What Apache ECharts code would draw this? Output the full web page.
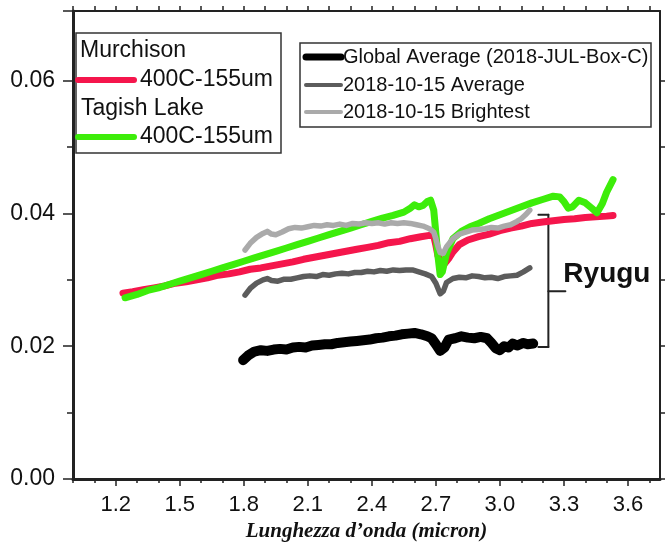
<!DOCTYPE html>
<html>
<head>
<meta charset="utf-8">
<script src="https://cdn.jsdelivr.net/npm/echarts@6/dist/echarts.min.js"></script>
<style>
html, body { margin: 0; padding: 0; background: #fff; }
#chart { width: 665px; height: 543px; }
</style>
</head>
<body>
<div id="chart"></div>
<script>
// Wavelength (micron) and reflectance for each spectrum
const murchisonX = [1.234,1.28,1.33,1.38,1.43,1.48,1.53,1.58,1.63,1.68,1.73,1.78,1.83,1.88,1.93,1.98,2.03,2.08,2.13,2.18,2.23,2.28,2.33,2.38,2.43,2.48,2.53,2.58,2.63,2.67,2.69,2.70,2.71,2.725,2.74,2.76,2.78,2.81,2.85,2.90,2.95,3.00,3.05,3.10,3.15,3.20,3.25,3.30,3.35,3.40,3.45,3.50,3.53];
const murchisonY = [0.0280,0.0282,0.0285,0.0288,0.0291,0.0295,0.0297,0.0300,0.0303,0.0307,0.0309,0.0312,0.0316,0.0318,0.0321,0.0324,0.0327,0.0331,0.0334,0.0337,0.0340,0.0343,0.0346,0.0349,0.0352,0.0356,0.0358,0.0362,0.0365,0.0367,0.0366,0.0352,0.0336,0.0325,0.0324,0.0332,0.0342,0.0353,0.0360,0.0365,0.0369,0.0374,0.0378,0.0381,0.0385,0.0387,0.0389,0.0391,0.0392,0.0394,0.0395,0.0396,0.0397];

const tagishX = [1.244,1.30,1.35,1.40,1.45,1.50,1.55,1.60,1.65,1.70,1.75,1.80,1.85,1.90,1.95,2.00,2.05,2.10,2.15,2.20,2.25,2.30,2.35,2.40,2.45,2.50,2.55,2.58,2.60,2.62,2.64,2.66,2.675,2.69,2.70,2.71,2.72,2.73,2.75,2.78,2.82,2.86,2.90,2.95,3.00,3.05,3.10,3.15,3.20,3.25,3.28,3.30,3.32,3.34,3.37,3.40,3.43,3.455,3.48,3.50,3.53];
const tagishY = [0.0273,0.0278,0.0284,0.0288,0.0293,0.0298,0.0303,0.0308,0.0313,0.0318,0.0323,0.0328,0.0333,0.0338,0.0343,0.0348,0.0353,0.0358,0.0363,0.0368,0.0373,0.0378,0.0383,0.0388,0.0393,0.0397,0.0402,0.0408,0.0413,0.0410,0.0412,0.0418,0.0420,0.0405,0.0370,0.0335,0.0308,0.0312,0.0340,0.0362,0.0373,0.0380,0.0385,0.0392,0.0398,0.0404,0.0410,0.0416,0.0421,0.0426,0.0425,0.0418,0.0408,0.0410,0.0420,0.0416,0.0408,0.0401,0.0415,0.0432,0.0451];

const globalX = [1.797,1.82,1.85,1.88,1.91,1.94,1.97,2.00,2.03,2.06,2.09,2.12,2.15,2.18,2.21,2.24,2.27,2.30,2.33,2.36,2.39,2.42,2.45,2.48,2.51,2.54,2.57,2.60,2.63,2.66,2.68,2.70,2.72,2.74,2.76,2.79,2.82,2.85,2.88,2.91,2.94,2.96,2.98,3.00,3.02,3.04,3.06,3.08,3.11,3.13,3.156];
const globalY = [0.0179,0.0186,0.0192,0.0194,0.0193,0.0195,0.0196,0.0195,0.0198,0.0199,0.0198,0.0201,0.0202,0.0203,0.0203,0.0205,0.0206,0.0207,0.0208,0.0209,0.0210,0.0212,0.0213,0.0215,0.0216,0.0218,0.0219,0.0220,0.0218,0.0215,0.0212,0.0203,0.0193,0.0198,0.0210,0.0212,0.0215,0.0213,0.0212,0.0214,0.0212,0.0205,0.0197,0.0194,0.0200,0.0198,0.0204,0.0201,0.0205,0.0203,0.0204];

const avgX = [1.806,1.83,1.86,1.89,1.91,1.93,1.96,1.99,2.02,2.05,2.08,2.11,2.14,2.17,2.20,2.23,2.26,2.29,2.32,2.35,2.38,2.41,2.44,2.47,2.50,2.53,2.56,2.59,2.62,2.65,2.68,2.70,2.72,2.735,2.75,2.78,2.81,2.84,2.87,2.90,2.93,2.96,2.99,3.02,3.05,3.08,3.11,3.14];
const avgY = [0.0277,0.0287,0.0295,0.0300,0.0302,0.0299,0.0298,0.0301,0.0301,0.0303,0.0305,0.0306,0.0305,0.0308,0.0307,0.0309,0.0310,0.0309,0.0311,0.0311,0.0313,0.0312,0.0314,0.0313,0.0315,0.0314,0.0315,0.0315,0.0312,0.0309,0.0305,0.0295,0.0279,0.0283,0.0296,0.0302,0.0304,0.0303,0.0306,0.0305,0.0303,0.0304,0.0302,0.0305,0.0306,0.0307,0.0312,0.0318];

const brightX = [1.806,1.83,1.86,1.89,1.91,1.93,1.95,1.98,2.01,2.04,2.07,2.10,2.13,2.16,2.19,2.22,2.25,2.28,2.31,2.34,2.37,2.40,2.43,2.46,2.49,2.52,2.55,2.58,2.61,2.64,2.67,2.69,2.70,2.71,2.72,2.735,2.75,2.78,2.81,2.84,2.87,2.90,2.93,2.96,2.99,3.02,3.05,3.08,3.10,3.12,3.14];
const brightY = [0.0345,0.0355,0.0364,0.0370,0.0373,0.0369,0.0368,0.0372,0.0377,0.0379,0.0378,0.0380,0.0382,0.0381,0.0383,0.0382,0.0384,0.0382,0.0385,0.0384,0.0386,0.0385,0.0386,0.0384,0.0386,0.0385,0.0386,0.0385,0.0383,0.0381,0.0377,0.0372,0.0362,0.0350,0.0341,0.0340,0.0350,0.0362,0.0369,0.0372,0.0375,0.0376,0.0377,0.0379,0.0378,0.0381,0.0383,0.0388,0.0392,0.0398,0.0405];

// Axis ticks and labels
const xLabelValues = [1.2, 1.5, 1.8, 2.1, 2.4, 2.7, 3.0, 3.3, 3.6];
const xMinorValues = [1.0, 1.1, 1.3, 1.4, 1.6, 1.7, 1.9, 2.0, 2.2, 2.3, 2.5, 2.6, 2.8, 2.9, 3.1, 3.2, 3.4, 3.5, 3.7];
const xTopValues = [1.0,1.1,1.2,1.3,1.4,1.5,1.6,1.7,1.8,1.9,2.0,2.1,2.2,2.3,2.4,2.5,2.6,2.7,2.8,2.9,3.0,3.1,3.2,3.3,3.4,3.5,3.6,3.7];
const yLabelValues = [0.00, 0.02, 0.04, 0.06];
const yMinorValues = [0.01, 0.03, 0.05];
const yRightValues = [0.00, 0.01, 0.02, 0.03, 0.04, 0.05, 0.06];

const X_MIN = 1.0, X_MAX = 3.75, Y_MIN = 0, Y_MAX = 0.0705;
const AXIS = '#222';
const SANS = '"Liberation Sans", Arial, sans-serif';

const zip = (xs, ys) => xs.map((x, i) => [x, ys[i]]);

const chart = echarts.init(document.getElementById('chart'), null, { renderer: 'canvas' });

function lineSeries(name, xs, ys, color, width) {
  return {
    name, type: 'line', data: zip(xs, ys), showSymbol: false, smooth: false,
    xAxisIndex: 0, yAxisIndex: 0,
    lineStyle: { color, width, cap: 'round', join: 'round' },
    itemStyle: { color }, emphasis: { disabled: true }
  };
}

const hiddenAxisBase = {
  type: 'value', min: X_MIN, max: X_MAX,
  splitLine: { show: false }, axisLabel: { show: false }
};

chart.setOption({
  animation: false,
  backgroundColor: '#fff',
  grid: { left: 73, right: 5, top: 11, bottom: 64, containLabel: false, outerBoundsMode: 'none' },
  xAxis: [
    {
      type: 'value', min: X_MIN, max: X_MAX, position: 'bottom',
      axisLine: { show: true, onZero: false, lineStyle: { color: AXIS, width: 3 } },
      axisTick: { show: true, customValues: xLabelValues, length: 7, lineStyle: { color: AXIS, width: 1.5 } },
      axisLabel: {
        customValues: xLabelValues, formatter: v => Number(v).toFixed(1),
        fontFamily: SANS, fontSize: 22, color: '#111', margin: 15
      },
      splitLine: { show: false },
      name: 'Lunghezza d\u2019onda (micron)', nameLocation: 'middle', nameGap: 37,
      nameTextStyle: { fontFamily: '"Liberation Serif", "Times New Roman", serif', fontStyle: 'italic', fontWeight: 'bold', fontSize: 21, color: '#111' }
    },
    Object.assign({}, hiddenAxisBase, {
      position: 'bottom',
      axisLine: { show: false, onZero: false },
      axisTick: { show: true, customValues: xMinorValues, length: 4, lineStyle: { color: AXIS, width: 1.5 } }
    }),
    Object.assign({}, hiddenAxisBase, {
      position: 'top',
      axisLine: { show: true, onZero: false, lineStyle: { color: AXIS, width: 2 } },
      axisTick: { show: true, customValues: xTopValues, length: 5, lineStyle: { color: AXIS, width: 1.5 } }
    })
  ],
  yAxis: [
    {
      type: 'value', min: Y_MIN, max: Y_MAX, position: 'left',
      axisLine: { show: true, onZero: false, lineStyle: { color: AXIS, width: 3 } },
      axisTick: { show: true, customValues: yLabelValues.concat([Y_MAX]), length: 10, lineStyle: { color: AXIS, width: 1.5 } },
      axisLabel: {
        customValues: yLabelValues, formatter: v => Number(v).toFixed(2),
        fontFamily: SANS, fontSize: 23, color: '#111', margin: 18
      },
      splitLine: { show: false }
    },
    {
      type: 'value', min: Y_MIN, max: Y_MAX, position: 'left',
      axisLine: { show: false, onZero: false },
      axisTick: { show: true, customValues: yMinorValues, length: 6, lineStyle: { color: AXIS, width: 1.5 } },
      axisLabel: { show: false }, splitLine: { show: false }
    },
    {
      type: 'value', min: Y_MIN, max: Y_MAX, position: 'right',
      axisLine: { show: true, onZero: false, lineStyle: { color: AXIS, width: 2 } },
      axisTick: { show: true, customValues: yRightValues, length: 5, lineStyle: { color: AXIS, width: 1.5 } },
      axisLabel: { show: false }, splitLine: { show: false }
    }
  ],
  series: [
    lineSeries('Murchison 400C-155um', murchisonX, murchisonY, '#f5164c', 7),
    lineSeries('Tagish Lake 400C-155um', tagishX, tagishY, '#3ded0a', 7),
    lineSeries('Global Average (2018-JUL-Box-C)', globalX, globalY, '#000000', 10),
    lineSeries('2018-10-15 Average', avgX, avgY, '#5c5c5c', 5.5),
    lineSeries('2018-10-15 Brightest', brightX, brightY, '#aaaaaa', 5.5)
  ]
});

// Legend boxes and the Ryugu bracket
const legendFont = '23px ' + SANS;
const legend2Font = '20px ' + SANS;
const txt = (x, y, text, font) => ({
  type: 'text', x, y, silent: true,
  style: { text, font, fill: '#111', verticalAlign: 'middle', align: 'left' }
});
const seg = (x1, y1, x2, y2, stroke, width) => ({
  type: 'line', silent: true,
  shape: { x1, y1, x2, y2 },
  style: { stroke, lineWidth: width, lineCap: 'round' }
});

const px = (x, y) => chart.convertToPixel({ xAxisIndex: 0, yAxisIndex: 0 }, [x, y]);
const bTop = px(3.227, 0.0398);
const bBot = px(3.227, 0.0199);
const bMid = px(3.227, 0.0283);

chart.setOption({
  graphic: [
    // meteorite samples
    { type: 'rect', silent: true, shape: { x: 76, y: 33, width: 205, height: 120 },
      style: { fill: '#fff', stroke: '#333', lineWidth: 1.5 } },
    txt(80, 51, 'Murchison', legendFont),
    seg(78, 80, 134, 80, '#f5164c', 6),
    txt(140, 80, '400C-155um', legendFont),
    txt(81, 109, 'Tagish Lake', legendFont),
    seg(78, 137, 134, 137, '#3ded0a', 6),
    txt(140, 137, '400C-155um', legendFont),
    // Ryugu spectra
    { type: 'rect', silent: true, shape: { x: 300, y: 43, width: 351, height: 84 },
      style: { fill: '#fff', stroke: '#333', lineWidth: 1.5 } },
    seg(306, 57, 341, 57, '#000', 7),
    txt(343, 57, 'Global Average (2018-JUL-Box-C)', legend2Font),
    seg(306, 85, 341, 85, '#5c5c5c', 4),
    txt(343, 85, '2018-10-15 Average', legend2Font),
    seg(306, 112, 341, 112, '#aaaaaa', 4),
    txt(343, 112, '2018-10-15 Brightest', legend2Font),
    // bracket
    seg(bTop[0], bTop[1], bBot[0], bBot[1], '#222', 2),
    seg(bTop[0] - 10, bTop[1], bTop[0], bTop[1], '#222', 2),
    seg(bBot[0] - 10, bBot[1], bBot[0], bBot[1], '#222', 2),
    seg(bMid[0], bMid[1], bMid[0] + 17, bMid[1], '#222', 2),
    { type: 'text', x: bMid[0] + 15, y: bMid[1] - 17, silent: true,
      style: { text: 'Ryugu', font: 'bold 28px ' + SANS, fill: '#111', verticalAlign: 'middle', align: 'left' } }
  ]
});
</script>
</body>
</html>
